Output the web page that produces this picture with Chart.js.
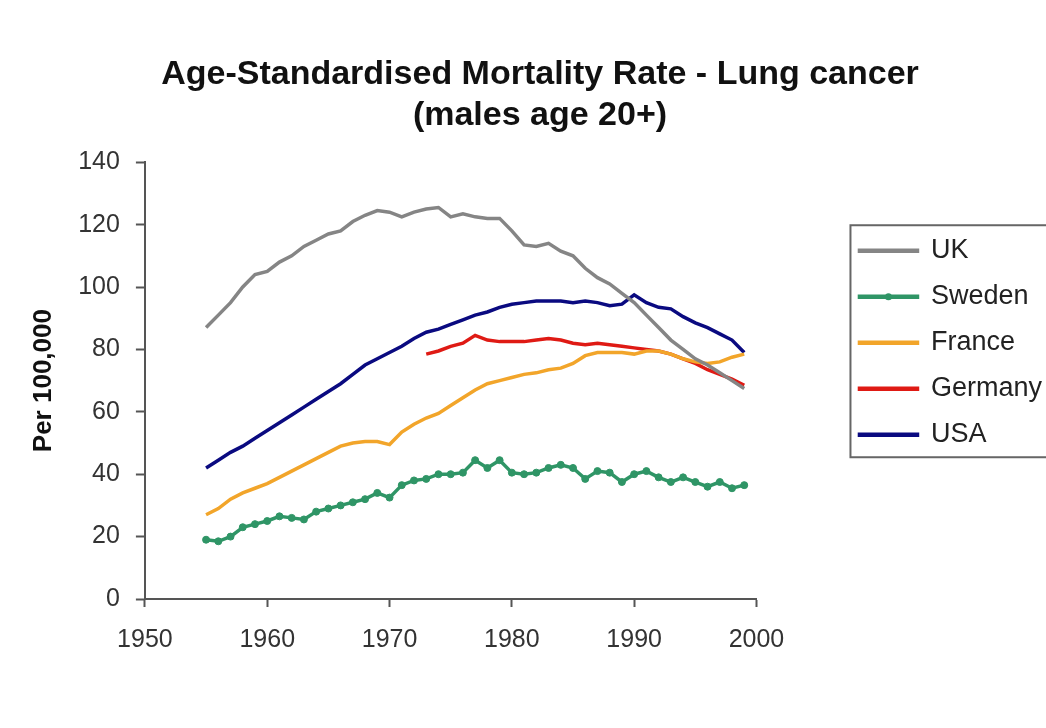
<!DOCTYPE html>
<html>
<head>
<meta charset="utf-8">
<script src="https://cdn.jsdelivr.net/npm/chart.js@4.4.0/dist/chart.umd.min.js"></script>
<style>
  html, body { margin: 0; padding: 0; background: #fff; }
  #wrap { width: 1046px; height: 728px; position: relative; }
</style>
</head>
<body>
<div id="wrap"><canvas id="chart"></canvas></div>
<script>
// values, one per year 1955..1999
const years = [1955,1956,1957,1958,1959,1960,1961,1962,1963,1964,1965,1966,1967,1968,1969,
  1970,1971,1972,1973,1974,1975,1976,1977,1978,1979,1980,1981,1982,1983,1984,
  1985,1986,1987,1988,1989,1990,1991,1992,1993,1994,1995,1996,1997,1998,1999];

const uk = [87,91,95,100,104,105,108,110,113,115,117,118,121,123,124.5,
  124,122.5,124,125,125.5,122.5,123.5,122.5,122,122,118,113.5,113,114,111.5,
  110,106,103,101,98,95,91,87,83,80,77,75,72.5,70,67.5];

const sweden = [19,18.5,20,23,24,25,26.5,26,25.5,28,29,30,31,32,34,
  32.5,36.5,38,38.5,40,40,40.5,44.5,42,44.5,40.5,40,40.5,42,43,
  42,38.5,41,40.5,37.5,40,41,39,37.5,39,37.5,36,37.5,35.5,36.5];

const france = [27,29,32,34,35.5,37,39,41,43,45,47,49,50,50.5,50.5,
  49.5,53.5,56,58,59.5,62,64.5,67,69,70,71,72,72.5,73.5,74,
  75.5,78,79,79,79,78.5,79.5,79.5,78.5,77,76,75.5,76,77.5,78.5];

// Germany only from 1973
const germanyStart = 1973;
const germany = [78.5,79.5,81,82,84.5,83,82.5,82.5,82.5,83,83.5,83,82,81.5,82,
  81.5,81,80.5,80,79.5,78.5,77,75.5,73.5,72,70.5,68.5];

const usa = [42,44.5,47,49,51.5,54,56.5,59,61.5,64,66.5,69,72,75,77,
  79,81,83.5,85.5,86.5,88,89.5,91,92,93.5,94.5,95,95.5,95.5,95.5,
  95,95.5,95,94,94.5,97.5,95,93.5,93,90.5,88.5,87,85,83,79];

const xTicks = [1950,1960,1970,1980,1990,2000];
const yTicks = [0,20,40,60,80,100,120,140];

function pairs(xs, ys) {
  return ys.map((v, i) => ({ x: xs[i], y: v }));
}
const germanyYears = years.slice(years.indexOf(germanyStart));

const FONT = "'Liberation Sans', Arial, sans-serif";
const LEGEND_BOX_W = 58;

function line(label, data, color, extra) {
  return Object.assign({
    label: label,
    data: data,
    borderColor: color,
    backgroundColor: color,
    borderWidth: 3.5,
    pointRadius: 0,
    tension: 0,
    fill: false
  }, extra || {});
}

// frame round the legend, plus the marker on the Sweden sample
const legendFrame = {
  id: 'legendFrame',
  afterDraw(chart) {
    const lg = chart.legend;
    if (!lg || !lg.legendHitBoxes || !lg.legendHitBoxes.length) return;
    const hb = lg.legendHitBoxes;
    const first = hb[0], last = hb[hb.length - 1];
    const ctx = chart.ctx;
    ctx.save();
    ctx.strokeStyle = '#666';
    ctx.lineWidth = 2;
    ctx.strokeRect(first.left - 9, first.top - 12, chart.width,
      last.top + last.height - first.top + 21);

    chart.data.datasets.forEach((ds, i) => {
      if (!ds.pointRadius || !hb[i]) return;
      ctx.fillStyle = ds.pointBackgroundColor;
      ctx.beginPath();
      ctx.arc(hb[i].left + LEGEND_BOX_W / 2, hb[i].top + hb[i].height / 2, ds.pointRadius, 0, Math.PI * 2);
      ctx.fill();
    });
    ctx.restore();
  }
};

new Chart(document.getElementById('chart'), {
  type: 'line',
  data: {
    datasets: [
      line('UK', pairs(years, uk), '#858585'),
      line('Sweden', pairs(years, sweden), '#2f9566', {
        pointRadius: 3.5, pointStyle: 'circle',
        pointBackgroundColor: '#2f9566', pointBorderColor: '#2f9566', pointBorderWidth: 1
      }),
      line('France', pairs(years, france), '#f2a52a'),
      line('Germany', pairs(germanyYears, germany), '#df1a14'),
      line('USA', pairs(years, usa), '#0a0a80')
    ]
  },
  options: {
    responsive: true,
    maintainAspectRatio: false,
    animation: false,
    layout: { padding: { left: 28, right: -6, top: 0, bottom: 55 } },
    plugins: {
      title: {
        display: true,
        text: ['Age-Standardised Mortality Rate - Lung cancer', '(males age 20+)'],
        color: '#111',
        font: { family: FONT, size: 34, weight: 'bold', lineHeight: 1.18 },
        padding: { top: 55, bottom: 27 }
      },
      legend: {
        position: 'right',
        align: 'start',
        fullSize: false,
        maxWidth: 260,
        title: { display: true, text: '', padding: { top: 44, bottom: 0 }, font: { size: 10 } },
        labels: {
          color: '#222',
          font: { family: FONT, size: 27 },
          boxWidth: LEGEND_BOX_W,
          boxHeight: 1,
          padding: 19
        }
      },
      tooltip: { enabled: false }
    },
    scales: {
      x: {
        type: 'linear',
        min: xTicks[0],
        max: xTicks[xTicks.length - 1],
        afterBuildTicks: s => { s.ticks = xTicks.map(v => ({ value: v })); },
        ticks: {
          color: '#333',
          font: { family: FONT, size: 25 },
          padding: 18,
          maxRotation: 0,
          callback: v => String(v)
        },
        grid: { display: true, drawOnChartArea: false, drawTicks: true, tickLength: 8, tickColor: '#555', tickWidth: 2 },
        border: { display: true, color: '#555', width: 2 }
      },
      y: {
        min: yTicks[0],
        max: yTicks[yTicks.length - 1],
        afterBuildTicks: s => { s.ticks = yTicks.map(v => ({ value: v })); },
        ticks: {
          color: '#333',
          font: { family: FONT, size: 25 },
          padding: 16,
          callback: v => String(v)
        },
        title: {
          display: true,
          text: 'Per 100,000',
          color: '#111',
          font: { family: FONT, size: 26, weight: 'bold' },
          padding: { top: 0, bottom: 3 }
        },
        grid: { display: true, drawOnChartArea: false, drawTicks: true, tickLength: 9, tickColor: '#555', tickWidth: 2 },
        border: { display: true, color: '#555', width: 2 }
      },
      // empty strip between the plot and the legend
      gap: {
        type: 'linear',
        position: 'right',
        display: true,
        ticks: { display: false },
        grid: { display: false },
        border: { display: false },
        afterFit: s => { s.width = 84; }
      }
    }
  },
  plugins: [legendFrame]
});
</script>
</body>
</html>
